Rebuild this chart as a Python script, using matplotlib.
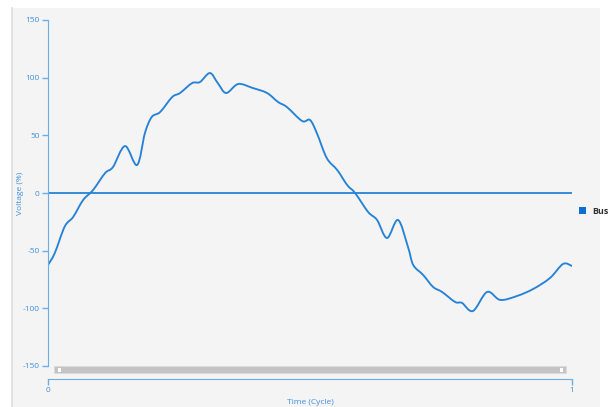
import numpy as np
import matplotlib
matplotlib.use("Agg")
import matplotlib.pyplot as plt
from matplotlib.path import Path
from matplotlib.patches import PathPatch, Rectangle

plt.rcParams['font.family'] = ['Open Sans', 'DejaVu Sans']
plt.rcParams['axes.unicode_minus'] = False

# waveform (time in cycles, voltage in %)
time_cycle = [0.000, 0.013, 0.032, 0.048, 0.067, 0.086, 0.109, 0.124, 0.147, 0.170,
              0.185, 0.198, 0.214, 0.237, 0.252, 0.275, 0.290, 0.309, 0.324, 0.340,
              0.363, 0.391, 0.418, 0.439, 0.456, 0.485, 0.500, 0.513, 0.532, 0.552,
              0.571, 0.586, 0.611, 0.628, 0.647, 0.668, 0.687, 0.697, 0.716, 0.735,
              0.752, 0.777, 0.790, 0.811, 0.838, 0.863, 0.895, 0.926, 0.958, 0.983, 1.000]
voltage = [-62.4, -52.0, -29.0, -20.8, -6.1, 2.6, 17.3, 22.5, 40.7, 24.3,
           52.0, 65.9, 70.2, 83.2, 86.7, 95.3, 96.2, 104.0, 95.3, 86.7,
           94.5, 91.0, 86.7, 78.9, 74.5, 62.4, 63.3, 52.0, 30.3, 19.9,
           6.9, 0.0, -16.5, -23.4, -39.0, -23.4, -46.8, -62.4, -71.1, -81.5,
           -85.8, -94.5, -95.3, -102.3, -85.8, -92.7, -89.3, -83.2, -73.7, -61.5, -63.3]
bus_level = 0
y_ticks = [-150, -100, -50, 0, 50, 100, 150]
x_ticks = [0, 1]

BLUE = "#2682d6"
AXIS = "#6aaee8"
TICK_TXT = "#3f8fdc"


def smooth_path(xs, ys):
    # catmull-rom through the points, drawn as cubic bezier segments
    pts = np.column_stack([xs, ys])
    verts = [pts[0]]
    codes = [Path.MOVETO]
    n = len(pts)
    for i in range(n - 1):
        p0 = pts[max(i - 1, 0)]
        p1 = pts[i]
        p2 = pts[i + 1]
        p3 = pts[min(i + 2, n - 1)]
        c1 = p1 + (p2 - p0) / 6.0
        c2 = p2 - (p3 - p1) / 6.0
        verts += [c1, c2, p2]
        codes += [Path.CURVE4] * 3
    return Path(verts, codes)


fig = plt.figure(figsize=(6.1, 4.07), dpi=100)
fig.patch.set_facecolor("white")
# grey panel behind the chart
fig.patches.append(Rectangle((12 / 610, 0), 588 / 610, 1 - 8 / 407,
                             transform=fig.transFigure, facecolor="#f4f4f4",
                             edgecolor="none", zorder=-10))
fig.lines.append(plt.Line2D([12 / 610, 12 / 610], [0, 1 - 8 / 407],
                            transform=fig.transFigure, color="#dcdce4", lw=1.2))

ax = fig.add_axes([48 / 610, 1 - 366 / 407, 524 / 610, 346 / 407])
ax.set_facecolor("none")
ax.set_xlim(0, 1)
ax.set_ylim(-150, 150)

ax.add_patch(PathPatch(smooth_path(time_cycle, voltage), facecolor="none",
                       edgecolor=BLUE, lw=1.35, capstyle="round"))
ax.plot([0, 1], [bus_level, bus_level], color=BLUE, lw=1.3)

for s in ["top", "right"]:
    ax.spines[s].set_visible(False)
ax.spines["left"].set_color(AXIS)
ax.spines["bottom"].set_color(AXIS)
ax.spines["bottom"].set_position(("outward", 9))
ax.set_yticks(y_ticks)
ax.set_xticks(x_ticks)
ax.set_xticklabels([str(v) for v in x_ticks])
ax.tick_params(axis="both", colors=AXIS, labelcolor=TICK_TXT, labelsize=6,
               length=4, width=1, pad=2)
ax.set_ylabel("Voltage (%)", fontsize=6, color=TICK_TXT)
ax.yaxis.set_label_coords(-24 / 524, 0.5)
ax.set_xlabel("Time (Cycle)", fontsize=6, color=TICK_TXT)
ax.xaxis.set_label_coords(0.5, -33 / 346)

# scrollbar under the plot
ax.add_patch(Rectangle((0.012, -0.02), 0.976, 0.019, transform=ax.transAxes,
                       facecolor="#c4c4c4", edgecolor="#dadada", lw=0.5, clip_on=False))
for xh in [0.017, 0.975]:
    ax.add_patch(Rectangle((xh, -0.016), 0.008, 0.012, transform=ax.transAxes,
                           facecolor="white", edgecolor="#b0b0b0", lw=0.4,
                           clip_on=False))

# legend
fig.patches.append(Rectangle((579 / 610, 1 - 214 / 407), 7 / 610, 7 / 407,
                             transform=fig.transFigure, facecolor="#0f6fcf",
                             edgecolor="none"))
fig.text(592 / 610, 1 - 211 / 407, "Bus", fontsize=6.5, color="#333333",
         fontweight="bold", va="center", ha="left")

fig.savefig("out.png", dpi=100)
